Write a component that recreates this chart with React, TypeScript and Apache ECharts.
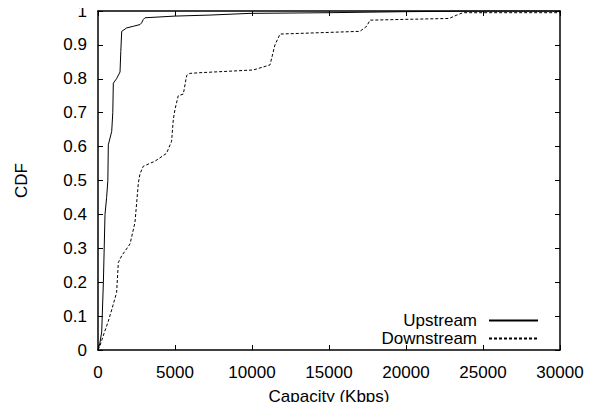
import React, { useEffect, useRef } from "react";
import * as echarts from "echarts";

const xTicks = [0, 5000, 10000, 15000, 20000, 25000, 30000];
const yTicks = [0, 0.1, 0.2, 0.3, 0.4, 0.5, 0.6, 0.7, 0.8, 0.9, 1];

const upstreamX = [0, 120, 240, 350, 455, 560, 640, 670, 780, 890, 960, 995, 1200, 1430, 1480, 1540, 1860, 2300, 2730, 2830, 2940, 3050, 5000, 7270, 9870, 15000, 20000, 25000, 30000];
const upstreamY = [0, 0.02, 0.053, 0.2, 0.4, 0.45, 0.5, 0.605, 0.625, 0.645, 0.7, 0.787, 0.80, 0.82, 0.88, 0.94, 0.95, 0.955, 0.96, 0.965, 0.975, 0.98, 0.985, 0.988, 0.993, 0.995, 0.998, 1.0, 1.0];

const downstreamX = [0, 130, 400, 670, 900, 1210, 1320, 1540, 2080, 2400, 2510, 2620, 2730, 2940, 3700, 4450, 4780, 4890, 5000, 5210, 5540, 5760, 5970, 6620, 10080, 11170, 11490, 11820, 17010, 17450, 17660, 19610, 22800, 23300, 23700, 30000];
const downstreamY = [0, 0.013, 0.05, 0.085, 0.12, 0.17, 0.258, 0.278, 0.313, 0.376, 0.434, 0.493, 0.52, 0.542, 0.557, 0.58, 0.616, 0.68, 0.71, 0.75, 0.755, 0.81, 0.816, 0.818, 0.826, 0.841, 0.9, 0.932, 0.94, 0.955, 0.973, 0.975, 0.978, 0.988, 0.995, 0.995];

const FONT = "Liberation Sans";
const FS = 17;

const mkLine = () => ({ show: true, onZero: false, lineStyle: { color: "#000", width: 1.5 } });
const mkTick = () => ({ show: true, inside: true, length: 5, lineStyle: { color: "#000", width: 1 } });

export default function App() {
  const ref = useRef<HTMLDivElement>(null);
  useEffect(() => {
    if (!ref.current) return;
    const chart = echarts.init(ref.current, undefined, { renderer: "svg" });
    const up = upstreamX.map((x, i) => [x, upstreamY[i]]);
    const down = downstreamX.map((x, i) => [x, downstreamY[i]]);
    chart.setOption({
      animation: false,
      textStyle: { fontFamily: FONT },
      grid: { left: 98, right: 39, top: 11, bottom: 59 },
      legend: {
        orient: "vertical",
        right: 55,
        top: 307,
        align: "right",
        itemWidth: 49,
        itemHeight: 14,
        itemGap: 1,
        itemStyle: { opacity: 0 },
        textStyle: { fontFamily: FONT, fontSize: FS, color: "#000", lineHeight: 17, padding: [0, 7, 0, 0] },
        data: ["Upstream", "Downstream"],
      },
      xAxis: [
        {
          type: "value",
          min: 0,
          max: 30000,
          interval: 5000,
          name: "Capacity (Kbps)",
          nameLocation: "middle",
          nameGap: 38,
          nameTextStyle: { fontFamily: FONT, fontSize: FS, color: "#000" },
          axisLine: mkLine(),
          axisTick: mkTick(),
          splitLine: { show: false },
          axisLabel: {
            fontFamily: FONT,
            fontSize: FS,
            color: "#000",
            margin: 14,
            formatter: (v: number) => (xTicks.includes(v) ? String(v) : ""),
          },
        },
        {
          type: "value",
          position: "top",
          min: 0,
          max: 30000,
          interval: 5000,
          axisLine: mkLine(),
          axisTick: mkTick(),
          splitLine: { show: false },
          axisLabel: { show: false },
        },
      ],
      yAxis: [
        {
          type: "value",
          min: 0,
          max: 1,
          interval: 0.1,
          name: "CDF",
          nameLocation: "middle",
          nameGap: 68,
          nameTextStyle: { fontFamily: FONT, fontSize: FS, color: "#000" },
          axisLine: mkLine(),
          axisTick: mkTick(),
          splitLine: { show: false },
          axisLabel: {
            fontFamily: FONT,
            fontSize: FS,
            color: "#000",
            margin: 11,
            formatter: (v: number) => {
              const t = yTicks.find((k) => Math.abs(k - v) < 1e-9);
              return t === undefined ? "" : String(t);
            },
          },
        },
        {
          type: "value",
          position: "right",
          min: 0,
          max: 1,
          interval: 0.1,
          axisLine: mkLine(),
          axisTick: mkTick(),
          splitLine: { show: false },
          axisLabel: { show: false },
        },
      ],
      series: [
        {
          name: "Upstream",
          type: "line",
          data: up,
          symbol: "none",
          lineStyle: { color: "#000", width: 1, type: "solid" },
          itemStyle: { color: "#000" },
        },
        {
          name: "Downstream",
          type: "line",
          data: down,
          symbol: "none",
          lineStyle: { color: "#000", width: 1, type: [3, 2] },
          itemStyle: { color: "#000" },
        },
      ],
    });
    return () => chart.dispose();
  }, []);
  return <div ref={ref} style={{ width: 599, height: 410, margin: -8 }} />;
}
